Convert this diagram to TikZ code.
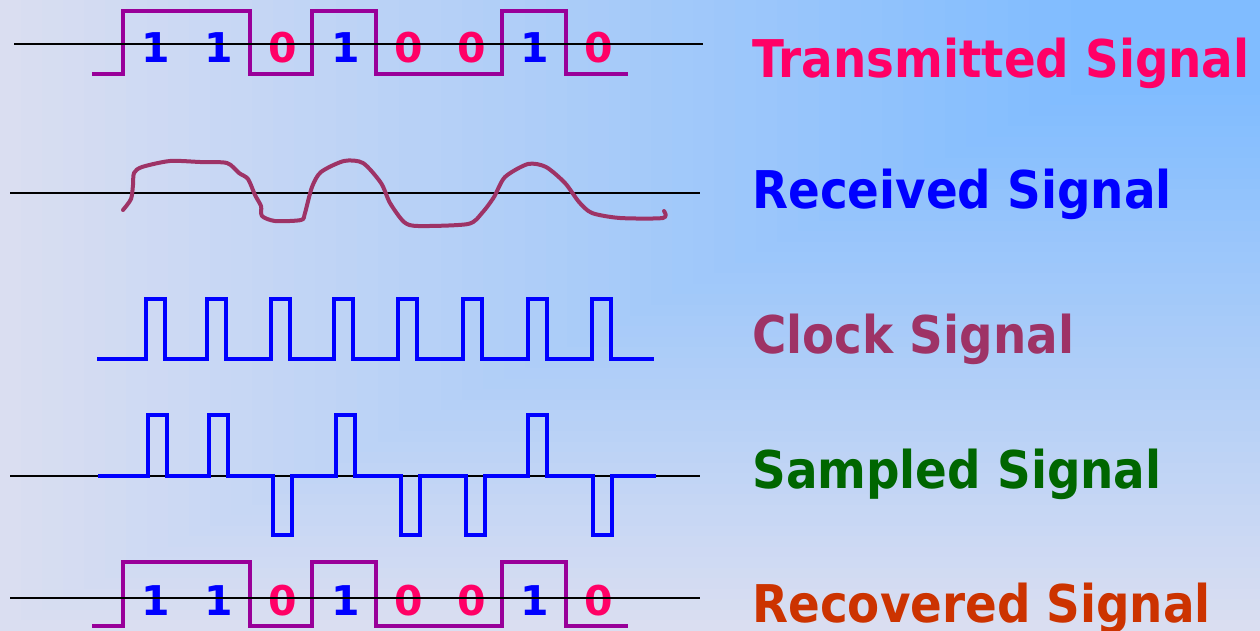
\documentclass[tikz,border=0pt]{standalone}
\usepackage{fontspec}
\setsansfont{DejaVu Sans}
\newfontfamily\lblfont{DejaVu Sans Condensed}
\usepackage{tikz}
\usetikzlibrary{positioning,calc}
\definecolor{bgBlue}{RGB}{128,188,255}
\definecolor{bgLav}{RGB}{218,222,241}
\definecolor{txPurple}{RGB}{153,0,153}
\definecolor{rxMaroon}{RGB}{158,51,102}
\definecolor{bitPink}{RGB}{255,0,102}
\definecolor{sigBlue}{RGB}{0,0,255}
\definecolor{smpGreen}{RGB}{0,102,0}
\definecolor{recOrange}{RGB}{204,51,0}
\tikzstyle{axisL}=[draw=black, line width=1pt]
\tikzstyle{wTx}=[draw=txPurple, line width=2pt]
\tikzstyle{wRx}=[draw=rxMaroon, line width=2pt, line cap=round, line join=round]
\tikzstyle{wClk}=[draw=sigBlue, line width=2pt]
\tikzstyle{bitS}=[inner sep=0pt, font=\sffamily\bfseries\fontsize{20.5}{24}\selectfont]
\tikzstyle{lbl}=[inner sep=0pt, anchor=base west, font=\lblfont\bfseries\fontsize{26}{30}\selectfont]

\begin{document}
\begin{tikzpicture}[x=0.5pt, y=-0.5pt]
                \useasboundingbox (0,0) rectangle (1260,631);
                % background, from the top right corner
                \foreach \i in {60,59,...,1} {
                    \pgfmathsetmacro\t{\i/60}
                    \pgfmathsetmacro\p{max(0,min(100,(\t-0.15)/0.85*100))}
                    \fill[bgLav!\p!bgBlue] ({1260-1260*\t},0) rectangle (1260,{631*\t});
                }
                % transmitted
                \draw[wTx] (92,74) -| (123,11) -| (250,74) -| (312,11) -| (376,74) -| (502,11) -| (566,74) -- (628,74);
                \foreach \b/\c [count=\i from 0] in {1/sigBlue,1/sigBlue,0/bitPink,1/sigBlue,0/bitPink,0/bitPink,1/sigBlue,0/bitPink}
                    \node[bitS, text=\c] (t\i) at (156+63.2*\i,48) {\b};
                \draw[axisL] (14,44) -- (703,44);
                % received
                \draw[axisL] (10,193) -- (700,193);
                \draw[wRx] plot[smooth, tension=0.45] coordinates {(123,210) (131,199) (133,185) (134,173) (142,167) (170,161) (200,162) (227,163)
                    (239,173) (248,179) (255,195) (261,206) (262,216) (275,221) (301,220) (305,213) (312,187) (321,172) (344,161) (363,163)
                    (381,183) (390,203) (404,222) (418,226) (468,224) (482,213) (494,197) (505,177) (528,164) (546,167) (565,183) (579,202)
                    (592,213) (620,218) (663,218) (664,211)};
                % clock
                \draw[wClk] (97,359) \foreach \x in {146,207,271,334,398,463,528,592} {
                    -- (\x,359) -- (\x,299) -- (\x+19,299) -- (\x+19,359) } -- (654,359);
                % sampled
                \draw[axisL] (10,476) -- (700,476);
                \draw[wClk] (98,476) \foreach \x/\y in {148/415,209/415,273/535,336/415,401/535,466/535,528/415,593/535} {
                    -- (\x,476) -- (\x,\y) -- (\x+19,\y) -- (\x+19,476) } -- (656,476);
                % recovered
                \draw[wTx] (92,626) -| (123,562) -| (250,626) -| (312,562) -| (376,626) -| (502,562) -| (566,626) -- (628,626);
                \foreach \b/\c [count=\i from 0] in {1/sigBlue,1/sigBlue,0/bitPink,1/sigBlue,0/bitPink,0/bitPink,1/sigBlue,0/bitPink}
                    \node[bitS, text=\c] (r\i) at (156+63.2*\i,601) {\b};
                \draw[axisL] (10,598) -- (700,598);
                % labels
                \node[lbl, text=bitPink] (lTx) at (752,78) {Transmitted Signal};
                \node[lbl, text=sigBlue] (lRx) at (752,209) {Received Signal};
                \node[lbl, text=rxMaroon] (lClk) at (752,353) {Clock Signal};
                \node[lbl, text=smpGreen] (lSmp) at (752,488) {Sampled Signal};
                \node[lbl, text=recOrange] (lRec) at (752,622) {Recovered Signal};
        \end{tikzpicture}
\end{document}
